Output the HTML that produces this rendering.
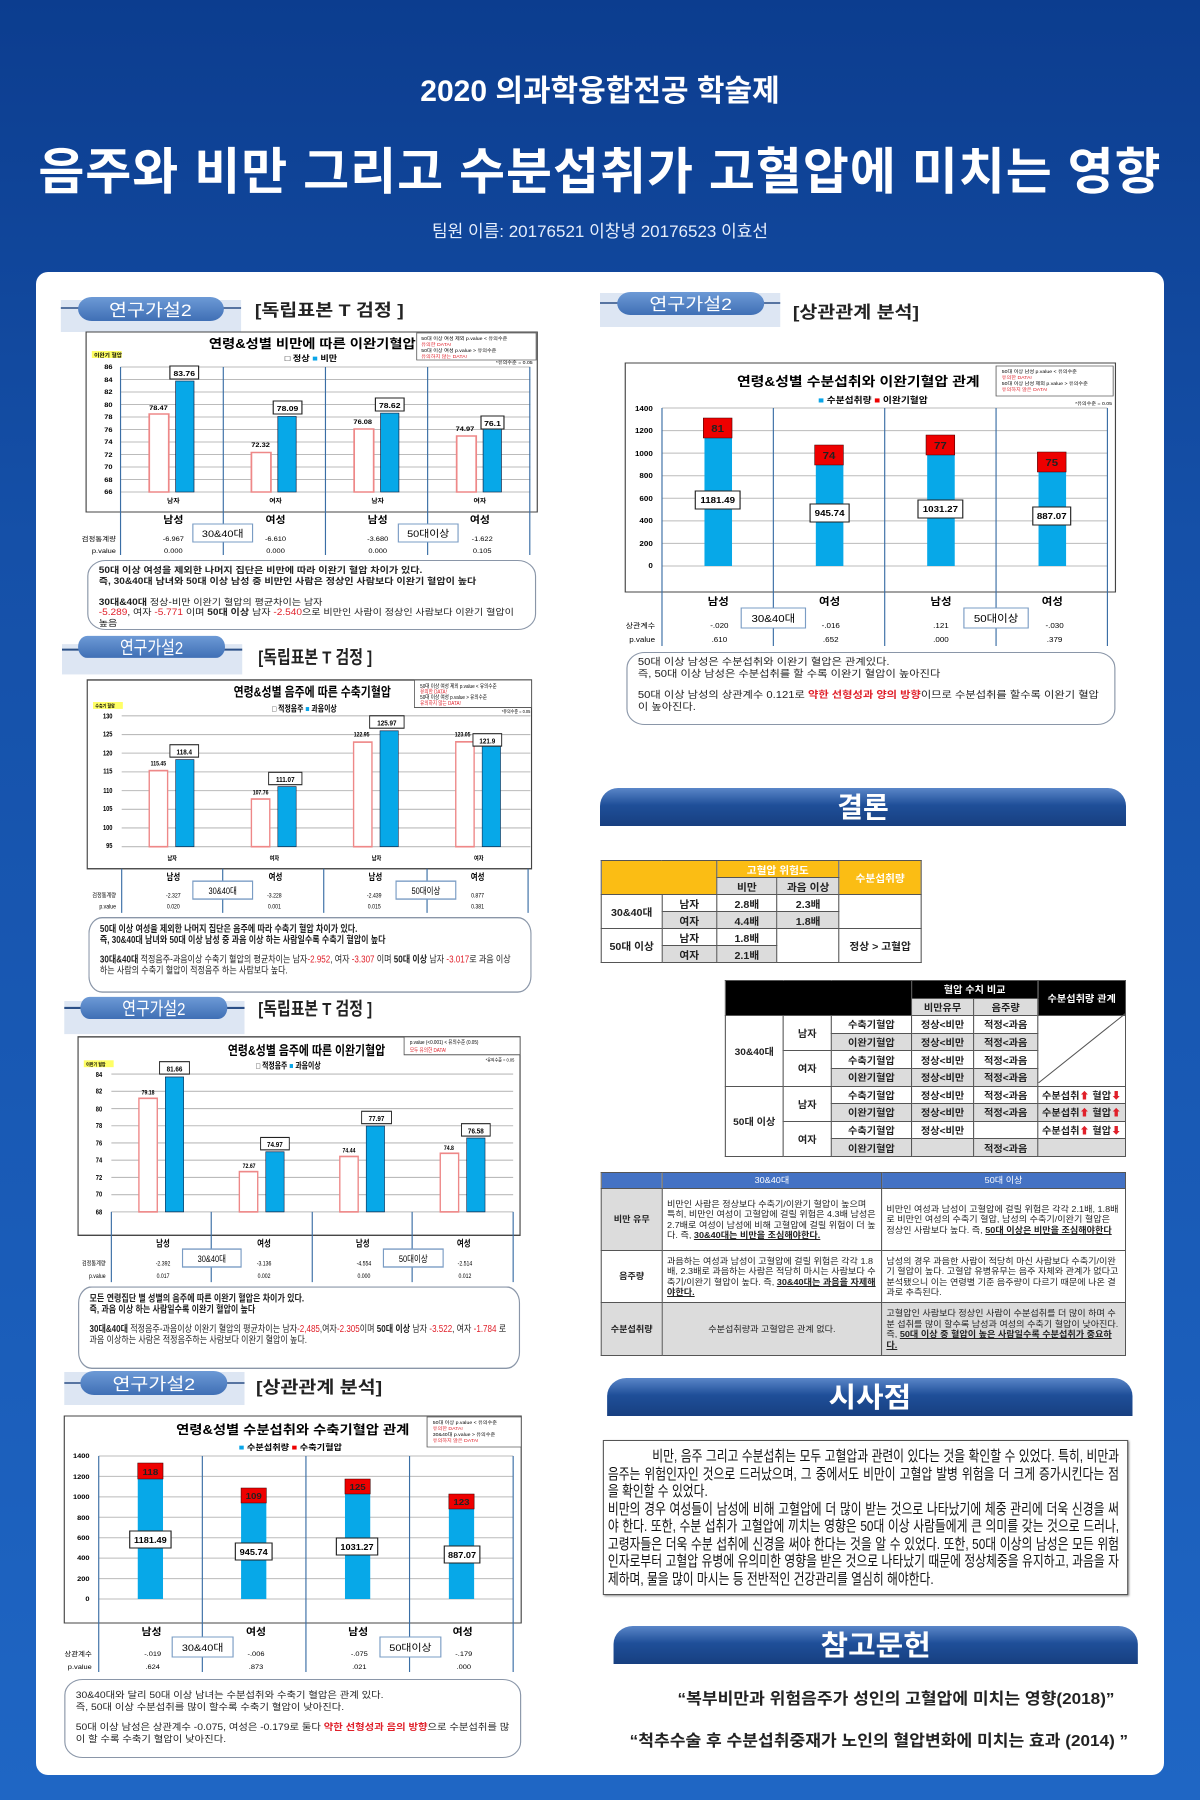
<!DOCTYPE html>
<html style="overflow:hidden;width:1200px;height:1800px"><head><meta charset="utf-8">
<style>
*{margin:0;padding:0;box-sizing:border-box}
body{width:1200px;height:1800px;position:relative;overflow:hidden;font-family:"Liberation Sans","Noto Sans CJK KR",sans-serif;background:linear-gradient(180deg,#0c3d8f 0%,#1550a8 30%,#1a5cb8 70%,#1f66c4 100%)}
.abs{position:absolute}
.wrap{position:absolute;left:0;top:0;width:0;height:0;overflow:visible}
.panel{left:36px;top:272px;width:1128px;height:1503px;background:#fff;border-radius:12px}
.h1{left:0;width:1200px;top:66px;text-align:center;color:#fff;font-size:30px;font-weight:bold}
.h2{left:0;width:1200px;top:132px;text-align:center;color:#fff;font-size:50px;font-weight:bold;letter-spacing:1px}
.h3{left:0;width:1200px;top:217px;text-align:center;color:#e6eefc;font-size:17px}
.note{border:1.5px solid #8a96a8;border-radius:16px;background:#fff;font-size:9.5px;line-height:12px;padding:6px 14px;color:#222}
.note b{font-weight:bold}
.red{color:#e0202a}
.banner{height:38px;border-radius:18px 18px 0 0;background:linear-gradient(180deg,#5a86c8 0%,#1f4f99 45%,#173f80 100%);color:#fff;font-weight:bold;font-size:28px;text-align:center;line-height:40px}
table{border-collapse:collapse;position:absolute;font-weight:bold;color:#222}
td{border:1px solid #555;text-align:center;padding:0;overflow:hidden}
.t1 td{font-size:10px;height:17px}
.t2 td{font-size:9.5px;height:17.6px}
.t3 td{font-size:8.5px;line-height:10.5px;font-weight:normal;text-align:left;padding:1px 4px}
.g{background:#dcdcdc}
.y{background:#fbbd14;color:#fff}
.k{background:#000;color:#fff}
.bl{background:#4472c4;color:#fff;font-weight:normal}
.ref{font-size:17px;font-weight:bold;color:#222;text-align:center;width:560px}
</style></head><body>
<div class="abs h1">2020 의과학융합전공 학술제</div>
<div class="abs h2">음주와 비만 그리고 수분섭취가 고혈압에 미치는 영향</div>
<div class="abs h3">팀원 이름: 20176521 이창녕 20176523 이효선</div>
<div class="abs panel"></div>

<svg class="abs" style="left:0;top:0" width="1200" height="1800" viewBox="0 0 1200 1800" font-family="Liberation Sans, Noto Sans CJK KR, sans-serif">
<defs><linearGradient id="pill" x1="0" y1="0" x2="0" y2="1"><stop offset="0" stop-color="#6d9ad6"/><stop offset="1" stop-color="#3f6fb5"/></linearGradient></defs>

<g transform="matrix(1.148,0,0,1,0,0)">
<rect x="53" y="300" width="157" height="32" fill="#dde6f3"/><line x1="53" y1="308" x2="210" y2="308" stroke="#2b4f86" stroke-width="1.5"/><rect x="68" y="297" width="127" height="24" rx="12" fill="url(#pill)"/><text x="131" y="316" fill="#fff" font-size="17" text-anchor="middle">연구가설2</text><text x="222" y="316" font-size="17" font-weight="bold" fill="#222">[독립표본 T 검정 ]</text>
<g font-weight="bold">
<rect x="75" y="332" width="393" height="180" fill="#fff" stroke="#444"/>
<text x="272" y="348" font-size="12.5" text-anchor="middle">연령&amp;성별 비만에 따른 이완기혈압</text>
<text x="248" y="361" font-size="8">□ 정상  <tspan fill="#0aa5e8">■</tspan> 비만</text>
<rect x="363" y="333" width="104" height="27" fill="#fff" stroke="#555" stroke-width=".7"/>
<text x="367" y="340" font-size="4.5" font-weight="normal">50대 이상 여성 제외 p.value &lt; 유의수준</text><text x="367" y="346" font-size="4.5" fill="#e0202a" font-weight="normal">유의한 DATA!</text><text x="367" y="352" font-size="4.5" font-weight="normal">50대 이상 여성 p.value &gt; 유의수준</text><text x="367" y="358" font-size="4.5" fill="#e0202a" font-weight="normal">유의하지 않는 DATA!</text>
<text x="464" y="364" font-size="4.5" text-anchor="end" font-weight="normal">*유의수준 = 0.05</text>
<rect x="80" y="351" width="26" height="7" fill="#ffff66"/><text x="82" y="357" font-size="5">이완기 혈압</text>
<path d="M105 367H462M105 379.5H462M105 392H462M105 404.5H462M105 417H462M105 429.5H462M105 442H462M105 454.5H462M105 467H462M105 479.5H462M105 492H462" stroke="#bbb" stroke-width="1"/>
<g font-size="6.5" text-anchor="end"><text x="98" y="369">86</text><text x="98" y="382">84</text><text x="98" y="394">82</text><text x="98" y="407">80</text><text x="98" y="419">78</text><text x="98" y="432">76</text><text x="98" y="444">74</text><text x="98" y="457">72</text><text x="98" y="469">70</text><text x="98" y="482">68</text><text x="98" y="494">66</text></g>
<g stroke="#e88" stroke-width="1.5" fill="#fff"><rect x="130" y="414" width="17" height="78"/><rect x="219" y="452.5" width="17" height="39.5"/><rect x="308.5" y="429" width="17" height="63"/><rect x="397.8" y="436" width="17" height="56"/></g>
<g fill="#07a8e8" stroke="#124" stroke-width=".6"><rect x="153" y="381" width="16" height="111"/><rect x="242" y="416.4" width="16" height="75.6"/><rect x="331.5" y="413.1" width="16" height="78.9"/><rect x="420.8" y="428.9" width="16" height="63.1"/></g>
<g font-size="6.5" text-anchor="middle"><text x="138" y="410">78.47</text><text x="227" y="447">72.32</text><text x="316" y="424">76.08</text><text x="405" y="431">74.97</text></g>
<g fill="#fff" stroke="#222"><rect x="148" y="366" width="25" height="13"/><rect x="238" y="401" width="25" height="13"/><rect x="327" y="398" width="25" height="13"/><rect x="419" y="416" width="20" height="13"/></g>
<g font-size="7.5" text-anchor="middle"><text x="160.5" y="376">83.76</text><text x="250.5" y="411">78.09</text><text x="339.5" y="408">78.62</text><text x="429" y="426">76.1</text></g>
<g font-size="6" text-anchor="middle"><text x="151" y="503">남자</text><text x="240" y="503">여자</text><text x="329" y="503">남자</text><text x="418" y="503">여자</text></g>
<path d="M105 367V555M194.5 367V555M283.5 367V555M372.5 367V555M461.5 367V555" stroke="#3a6ea5" stroke-width="1"/>
<g font-size="9.5" text-anchor="middle"><text x="151" y="523">남성</text><text x="240" y="523">여성</text><text x="329" y="523">남성</text><text x="418" y="523">여성</text></g>
<rect x="168" y="524" width="52" height="18" fill="#fff" stroke="#7a9cc4"/><rect x="347" y="524" width="52" height="18" fill="#fff" stroke="#7a9cc4"/>
<text x="194" y="537" font-size="9.5" text-anchor="middle" font-weight="normal">30&amp;40대</text><text x="373" y="537" font-size="9.5" text-anchor="middle" font-weight="normal">50대이상</text>
<g font-size="6.5" font-weight="normal" text-anchor="middle"><text x="101" y="541" text-anchor="end">검정통계량</text><text x="101" y="553" text-anchor="end">p.value</text>
<text x="151" y="541">-6.967</text><text x="240" y="541">-6.610</text><text x="329" y="541">-3.680</text><text x="420" y="541">-1.622</text>
<text x="151" y="553">0.000</text><text x="240" y="553">0.000</text><text x="329" y="553">0.000</text><text x="420" y="553">0.105</text></g>
</g>
</g>

<g transform="matrix(1.148,0,0,1.378,0,-241.92)">
<rect x="54" y="643" width="157" height="22" fill="#dde6f3"/><line x1="54" y1="647" x2="211" y2="647" stroke="#2b4f86" stroke-width="1.5"/><rect x="68" y="637" width="128" height="16" rx="8" fill="url(#pill)"/><text x="132" y="650" fill="#fff" font-size="13" text-anchor="middle">연구가설2</text><text x="225" y="657" font-size="13" font-weight="bold" fill="#222">[독립표본 T 검정 ]</text>
<rect x="56" y="902" width="157" height="24" fill="#dde6f3"/><line x1="56" y1="907" x2="213" y2="907" stroke="#2b4f86" stroke-width="1.5"/><rect x="70" y="899" width="128" height="16" rx="8" fill="url(#pill)"/><text x="134" y="912" fill="#fff" font-size="13" text-anchor="middle">연구가설2</text><text x="225" y="912" font-size="13" font-weight="bold" fill="#222">[독립표본 T 검정 ]</text>
<g font-weight="bold">
<rect x="76" y="669" width="387" height="137" fill="#fff" stroke="#444"/>
<text x="272" y="681" font-size="9.5" text-anchor="middle">연령&amp;성별 음주에 따른 수축기혈압</text>
<text x="237" y="692" font-size="6">□ 적정음주   <tspan fill="#0aa5e8">■</tspan> 과음이상</text>
<rect x="361" y="669" width="102" height="20" fill="#fff" stroke="#555" stroke-width=".7"/>
<text x="366" y="675" font-size="4" font-weight="normal">50대 이상 여성 제외 p.value &lt; 유의수준</text><text x="366" y="679" font-size="4" fill="#e0202a" font-weight="normal">유의한 DATA!</text><text x="366" y="683" font-size="4" font-weight="normal">50대 이상 여성 p.value &gt; 유의수준</text><text x="366" y="687" font-size="4" fill="#e0202a" font-weight="normal">유의하지 않는 DATA!</text>
<text x="462" y="693" font-size="3.5" text-anchor="end" font-weight="normal">*유의수준 = 0.05</text>
<rect x="81" y="685" width="26" height="5" fill="#ffff66"/><text x="83" y="689" font-size="3.5">수축기 혈압</text>
<path d="M106 695H462M106 708.6H462M106 722.1H462M106 735.7H462M106 749.3H462M106 762.9H462M106 776.4H462M106 790H462" stroke="#bbb" stroke-width=".8"/>
<g font-size="5" text-anchor="end"><text x="98" y="697">130</text><text x="98" y="710">125</text><text x="98" y="724">120</text><text x="98" y="737">115</text><text x="98" y="751">110</text><text x="98" y="764">105</text><text x="98" y="778">100</text><text x="98" y="791">95</text></g>
<g stroke="#e88" stroke-width="1.2" fill="#fff"><rect x="130" y="734.8" width="16" height="55.2"/><rect x="219" y="755.4" width="16" height="34.6"/><rect x="308" y="714.1" width="16" height="75.9"/><rect x="397" y="713.9" width="16" height="76.1"/></g>
<g fill="#07a8e8" stroke="#124" stroke-width=".5"><rect x="153" y="726.8" width="16" height="63.2"/><rect x="242" y="746.4" width="16" height="43.6"/><rect x="331" y="705.9" width="16" height="84.1"/><rect x="420" y="717" width="16" height="73"/></g>
<g font-size="4.5" text-anchor="middle"><text x="138" y="731">115.45</text><text x="227" y="752">107.76</text><text x="315" y="710">122.95</text><text x="403" y="710">123.05</text></g>
<g fill="#fff" stroke="#222" stroke-width=".8"><rect x="148" y="716" width="25" height="9"/><rect x="234" y="736" width="29" height="9"/><rect x="322" y="695" width="30" height="9"/><rect x="412" y="708" width="25" height="9"/></g>
<g font-size="5.5" text-anchor="middle"><text x="160.5" y="723">118.4</text><text x="248.5" y="743">111.07</text><text x="337" y="702">125.97</text><text x="424.5" y="715">121.9</text></g>
<g font-size="4.5" text-anchor="middle"><text x="150" y="800">남자</text><text x="239" y="800">여자</text><text x="328" y="800">남자</text><text x="417" y="800">여자</text></g>
<path d="M106 806V838M194 806V838M282 806V838M372 806V838M460 806V838" stroke="#3a6ea5"/>
<g font-size="6.5" text-anchor="middle"><text x="151" y="814">남성</text><text x="240" y="814">여성</text><text x="327" y="814">남성</text><text x="416" y="814">여성</text></g>
<rect x="168" y="815" width="52" height="13" fill="#fff" stroke="#7a9cc4"/><rect x="345" y="815" width="52" height="13" fill="#fff" stroke="#7a9cc4"/>
<text x="194" y="824.5" font-size="6.5" text-anchor="middle" font-weight="normal">30&amp;40대</text><text x="371" y="824.5" font-size="6.5" text-anchor="middle" font-weight="normal">50대이상</text>
<g font-size="4.5" font-weight="normal" text-anchor="middle"><text x="101" y="827" text-anchor="end">검정통계량</text><text x="101" y="835" text-anchor="end">p.value</text>
<text x="151" y="827">-2.327</text><text x="239" y="827">-3.228</text><text x="326" y="827">-2.439</text><text x="416" y="827">0.877</text>
<text x="151" y="835">0.020</text><text x="239" y="835">0.001</text><text x="326" y="835">0.015</text><text x="416" y="835">0.381</text></g>
</g>
<g font-weight="bold">
<rect x="68" y="928" width="385" height="144" fill="#fff" stroke="#444"/>
<text x="267" y="941" font-size="9.5" text-anchor="middle">연령&amp;성별 음주에 따른 이완기혈압</text>
<text x="223" y="951" font-size="6">□ 적정음주   <tspan fill="#0aa5e8">■</tspan> 과음이상</text>
<rect x="352" y="928" width="101" height="13" fill="#fff" stroke="#555" stroke-width=".7"/>
<text x="357" y="933" font-size="4" font-weight="normal">p.value (&lt;0.001) &lt; 유의수준 (0.05)</text><text x="357" y="939" font-size="4" fill="#e0202a" font-weight="normal">모두 유의한 DATA!</text>
<text x="448" y="946" font-size="3.5" text-anchor="end" font-weight="normal">*유의수준 = 0.05</text>
<rect x="73" y="945" width="26" height="5" fill="#ffff66"/><text x="75" y="949" font-size="3.5">이완기 혈압</text>
<path d="M97 955H447M97 967.5H447M97 980H447M97 992.5H447M97 1005H447M97 1017.5H447M97 1030H447M97 1042.5H447M97 1055H447" stroke="#bbb" stroke-width=".8"/>
<g font-size="5" text-anchor="end"><text x="89" y="957">84</text><text x="89" y="969">82</text><text x="89" y="982">80</text><text x="89" y="994">78</text><text x="89" y="1007">76</text><text x="89" y="1019">74</text><text x="89" y="1032">72</text><text x="89" y="1044">70</text><text x="89" y="1057">68</text></g>
<g stroke="#e88" stroke-width="1.2" fill="#fff"><rect x="121" y="972.6" width="16" height="82.4"/><rect x="208.5" y="1025.8" width="16" height="29.2"/><rect x="296" y="1014.8" width="16" height="40.2"/><rect x="383.5" y="1012.5" width="16" height="42.5"/></g>
<g fill="#07a8e8" stroke="#124" stroke-width=".5"><rect x="144" y="957.1" width="16" height="97.9"/><rect x="231.5" y="1011.4" width="16" height="43.6"/><rect x="319" y="992.7" width="16" height="62.3"/><rect x="406.5" y="1001.4" width="16" height="53.6"/></g>
<g font-size="4.5" text-anchor="middle"><text x="129" y="970">79.18</text><text x="217" y="1023">72.67</text><text x="304" y="1012">74.44</text><text x="391" y="1010">74.8</text></g>
<g fill="#fff" stroke="#222" stroke-width=".8"><rect x="139" y="946" width="26" height="9"/><rect x="227" y="1001" width="25" height="9"/><rect x="315" y="982" width="26" height="9"/><rect x="402" y="991" width="25" height="9"/></g>
<g font-size="5.5" text-anchor="middle"><text x="152" y="953">81.66</text><text x="239.5" y="1008">74.97</text><text x="328" y="989">77.97</text><text x="414.5" y="998">76.58</text></g>
<path d="M97 1055V1106M184 1055V1106M272 1055V1106M359 1055V1106M447 1055V1106" stroke="#3a6ea5"/>
<g font-size="6.5" text-anchor="middle"><text x="142" y="1080">남성</text><text x="230" y="1080">여성</text><text x="316" y="1080">남성</text><text x="404" y="1080">여성</text></g>
<rect x="159" y="1082" width="51" height="13" fill="#fff" stroke="#7a9cc4"/><rect x="334" y="1082" width="52" height="13" fill="#fff" stroke="#7a9cc4"/>
<text x="184.5" y="1091.5" font-size="6.5" text-anchor="middle" font-weight="normal">30&amp;40대</text><text x="360" y="1091.5" font-size="6.5" text-anchor="middle" font-weight="normal">50대이상</text>
<g font-size="4.5" font-weight="normal" text-anchor="middle"><text x="92" y="1094" text-anchor="end">검정통계량</text><text x="92" y="1103" text-anchor="end">p.value</text>
<text x="142" y="1094">-2.392</text><text x="230" y="1094">-3.136</text><text x="317" y="1094">-4.554</text><text x="405" y="1094">-2.514</text>
<text x="142" y="1103">0.017</text><text x="230" y="1103">0.002</text><text x="317" y="1103">0.000</text><text x="405" y="1103">0.012</text></g>
</g>
</g>

<g transform="matrix(1.148,0,0,1,0,0)">
<rect x="56" y="1372" width="157" height="33" fill="#dde6f3"/><line x1="56" y1="1383" x2="213" y2="1383" stroke="#2b4f86" stroke-width="1.5"/><rect x="70" y="1371" width="128" height="24" rx="12" fill="url(#pill)"/><text x="134" y="1390" fill="#fff" font-size="17" text-anchor="middle">연구가설2</text><text x="223" y="1393" font-size="17" font-weight="bold" fill="#222">[상관관계 분석]</text>
<g font-weight="bold">
<rect x="56" y="1416" width="398" height="207" fill="#fff" stroke="#444"/>
<text x="255" y="1434" font-size="12.5" text-anchor="middle">연령&amp;성별 수분섭취와 수축기혈압 관계</text>
<text x="208" y="1450" font-size="8"><tspan fill="#0aa5e8">■</tspan> 수분섭취량   <tspan fill="#e00">■</tspan> 수축기혈압</text>
<rect x="372" y="1417" width="82" height="30" fill="#fff" stroke="#555" stroke-width=".7"/>
<text x="377" y="1424" font-size="4.5" font-weight="normal">50대 이상 p.value &lt; 유의수준</text><text x="377" y="1430" font-size="4.5" fill="#e0202a" font-weight="normal">유의한 DATA!</text><text x="377" y="1436" font-size="4.5" font-weight="normal">30&amp;40대 p.value &gt; 유의수준</text><text x="377" y="1442" font-size="4.5" fill="#e0202a" font-weight="normal">유의하지 않은 DATA!</text>
<path d="M86 1456H447M86 1476.4H447M86 1496.9H447M86 1517.3H447M86 1537.7H447M86 1558.1H447M86 1578.6H447M86 1599H447" stroke="#bbb"/>
<g font-size="6.5" text-anchor="end"><text x="78" y="1458">1400</text><text x="78" y="1479">1200</text><text x="78" y="1499">1000</text><text x="78" y="1520">800</text><text x="78" y="1540">600</text><text x="78" y="1560">400</text><text x="78" y="1581">200</text><text x="78" y="1601">0</text></g>
<g fill="#07a8e8"><rect x="120" y="1478.4" width="22" height="120.6"/><rect x="210" y="1502.4" width="22" height="96.6"/><rect x="300.5" y="1493.7" width="22" height="105.3"/><rect x="391" y="1508.4" width="22" height="90.6"/></g>
<g fill="#e00" stroke="#400" stroke-width=".5"><rect x="120" y="1463" width="22" height="16"/><rect x="210" y="1488" width="22" height="15"/><rect x="300.5" y="1479" width="22" height="15"/><rect x="391" y="1494" width="22" height="15"/></g>
<g font-size="8.5" text-anchor="middle" fill="#222"><text x="131" y="1475">118</text><text x="221" y="1499">109</text><text x="311.5" y="1490">125</text><text x="402" y="1505">123</text></g>
<g fill="#fff" stroke="#222"><rect x="113" y="1531" width="36" height="17"/><rect x="205" y="1543" width="32" height="17"/><rect x="293" y="1538" width="36" height="17"/><rect x="387" y="1546" width="31" height="17"/></g>
<g font-size="8" text-anchor="middle"><text x="131" y="1543">1181.49</text><text x="221" y="1555">945.74</text><text x="311" y="1550">1031.27</text><text x="402.5" y="1558">887.07</text></g>
<path d="M86 1456V1672M176.25 1456V1672M266.5 1456V1672M356.75 1456V1672M447 1456V1672" stroke="#3a6ea5"/>
<g font-size="9.5" text-anchor="middle"><text x="132" y="1635">남성</text><text x="223" y="1635">여성</text><text x="312" y="1635">남성</text><text x="403" y="1635">여성</text></g>
<rect x="150" y="1637" width="53" height="20" fill="#fff" stroke="#7a9cc4"/><rect x="331" y="1637" width="53" height="20" fill="#fff" stroke="#7a9cc4"/>
<text x="176.5" y="1651" font-size="9.5" text-anchor="middle" font-weight="normal">30&amp;40대</text><text x="357.5" y="1651" font-size="9.5" text-anchor="middle" font-weight="normal">50대이상</text>
<g font-size="6.5" font-weight="normal" text-anchor="middle"><text x="80" y="1656" text-anchor="end">상관계수</text><text x="80" y="1669" text-anchor="end">p.value</text>
<text x="133" y="1656">-.019</text><text x="223" y="1656">-.006</text><text x="313" y="1656">-.075</text><text x="404" y="1656">-.179</text>
<text x="133" y="1669">.624</text><text x="223" y="1669">.873</text><text x="313" y="1669">.021</text><text x="404" y="1669">.000</text></g>
</g>
</g>

<g transform="matrix(1.148,0,0,1,-88.8,0)">
<rect x="600" y="293" width="157" height="34" fill="#dde6f3"/><line x1="600" y1="303" x2="757" y2="303" stroke="#2b4f86" stroke-width="1.5"/><rect x="615" y="292" width="128" height="23" rx="11.5" fill="url(#pill)"/><text x="679" y="310" fill="#fff" font-size="17" text-anchor="middle">연구가설2</text><text x="768" y="318" font-size="17" font-weight="bold" fill="#222">[상관관계 분석]</text>
<g font-weight="bold">
<rect x="622" y="363" width="427" height="229" fill="#fff" stroke="#444"/>
<text x="825" y="386" font-size="13" text-anchor="middle">연령&amp;성별 수분섭취와 이완기혈압 관계</text>
<text x="790" y="403" font-size="8.5"><tspan fill="#0aa5e8">■</tspan> 수분섭취량   <tspan fill="#e00">■</tspan> 이완기혈압</text>
<rect x="945" y="366" width="102" height="30" fill="#fff" stroke="#555" stroke-width=".7"/>
<text x="950" y="373" font-size="4.5" font-weight="normal">50대 이상 남성 p.value &lt; 유의수준</text><text x="950" y="379" font-size="4.5" fill="#e0202a" font-weight="normal">유의한 DATA!</text><text x="950" y="385" font-size="4.5" font-weight="normal">50대 이상 남성 제외 p.value &gt; 유의수준</text><text x="950" y="391" font-size="4.5" fill="#e0202a" font-weight="normal">유의하지 않은 DATA!</text>
<text x="1046" y="405" font-size="4.5" text-anchor="end" font-weight="normal">*유의수준 = 0.05</text>
<path d="M654 408H1042M654 430.6H1042M654 453.1H1042M654 475.7H1042M654 498.3H1042M654 520.9H1042M654 543.4H1042M654 566H1042" stroke="#bbb"/>
<g font-size="7" text-anchor="end"><text x="646" y="411">1400</text><text x="646" y="433">1200</text><text x="646" y="456">1000</text><text x="646" y="478">800</text><text x="646" y="501">600</text><text x="646" y="523">400</text><text x="646" y="546">200</text><text x="646" y="568">0</text></g>
<g fill="#07a8e8"><rect x="691" y="432.6" width="24" height="133.4"/><rect x="788" y="459.2" width="24" height="106.8"/><rect x="885" y="449.6" width="24" height="116.4"/><rect x="982" y="465.8" width="24" height="100.2"/></g>
<g fill="#e00" stroke="#400" stroke-width=".5"><rect x="690" y="418" width="25" height="20"/><rect x="787" y="445" width="25" height="20"/><rect x="884" y="435" width="25" height="20"/><rect x="981" y="452" width="25" height="20"/></g>
<g font-size="10" text-anchor="middle" fill="#222"><text x="702.5" y="432">81</text><text x="799.5" y="459">74</text><text x="896.5" y="449">77</text><text x="993.5" y="466">75</text></g>
<g fill="#fff" stroke="#222"><rect x="683" y="491" width="39" height="18"/><rect x="783" y="504" width="34" height="18"/><rect x="877" y="500" width="39" height="18"/><rect x="977" y="507" width="33" height="18"/></g>
<g font-size="8.5" text-anchor="middle"><text x="702.5" y="503">1181.49</text><text x="800" y="516">945.74</text><text x="896.5" y="512">1031.27</text><text x="993.5" y="519">887.07</text></g>
<path d="M654 408V646M751 408V646M848 408V646M945 408V646M1042 408V646" stroke="#3a6ea5"/>
<g font-size="10" text-anchor="middle"><text x="703" y="605">남성</text><text x="800" y="605">여성</text><text x="897" y="605">남성</text><text x="994" y="605">여성</text></g>
<rect x="723" y="608" width="56" height="20" fill="#fff" stroke="#7a9cc4"/><rect x="917" y="608" width="56" height="20" fill="#fff" stroke="#7a9cc4"/>
<text x="751" y="622" font-size="10" text-anchor="middle" font-weight="normal">30&amp;40대</text><text x="945" y="622" font-size="10" text-anchor="middle" font-weight="normal">50대이상</text>
<g font-size="7" font-weight="normal" text-anchor="middle"><text x="648" y="628" text-anchor="end">상관계수</text><text x="648" y="642" text-anchor="end">p.value</text>
<text x="704" y="628">-.020</text><text x="801" y="628">-.016</text><text x="897" y="628">.121</text><text x="996" y="628">-.030</text>
<text x="704" y="642">.610</text><text x="801" y="642">.652</text><text x="897" y="642">.000</text><text x="996" y="642">.379</text></g>
</g>
</g>
</svg>

<div class="wrap" style="transform-origin:0 270px;transform:scale(1.148,1)">
<div class="abs note" style="left:76px;top:560px;width:391px;height:70px;font-size:8.8px;line-height:10.5px;padding:4px 9px"><b>50대 이상 여성을 제외한 나머지 집단은 비만에 따라 이완기 혈압 차이가 있다.<br>즉, 30&amp;40대 남녀와 50대 이상 남성 중 비만인 사람은 정상인 사람보다 이완기 혈압이 높다</b><br><br style="line-height:6px"><b>30대&amp;40대</b> 정상-비만 이완기 혈압의 평균차이는 남자<br><span class="red">-5.289</span>, 여자 <span class="red">-5.771</span> 이며 <b>50대 이상</b> 남자 <span class="red">-2.540</span>으로 비만인 사람이 정상인 사람보다 이완기 혈압이 높음</div>
</div>
<div class="wrap" style="transform-origin:0 640px;transform:scale(1.148,1.378)">
<div class="abs note" style="left:77px;top:841px;width:386px;height:55px;font-size:7px;line-height:8px;padding:5px 9px;border-radius:12px;border-width:1px"><b>50대 이상 여성을 제외한 나머지 집단은 음주에 따라 수축기 혈압 차이가 있다.<br>즉, 30&amp;40대 남녀와 50대 이상 남성 중 과음 이상 하는 사람일수록 수축기 혈압이 높다</b><br><span style="display:block;height:6px"></span><b>30대&amp;40대</b> 적정음주-과음이상 수축기 혈압의 평균차이는 남자<span class="red">-2.952</span>, 여자 <span class="red">-3.307</span> 이며 <b>50대 이상</b> 남자 <span class="red">-3.017</span>로 과음 이상 하는 사람의 수축기 혈압이 적정음주 하는 사람보다 높다.</div>
<div class="abs note" style="left:68px;top:1109px;width:385px;height:60px;font-size:7px;line-height:8px;padding:5px 9px;border-radius:12px;border-width:1px"><b>모든 연령집단 별 성별의 음주에 따른 이완기 혈압은 차이가 있다.<br>즉, 과음 이상 하는 사람일수록 이완기 혈압이 높다</b><br><span style="display:block;height:6px"></span><b>30대&amp;40대</b> 적정음주-과음이상 이완기 혈압의 평균차이는 남자<span class="red">-2,485</span>,여자<span class="red">-2.305</span>이며 <b>50대 이상</b> 남자 <span class="red">-3.522</span>, 여자 <span class="red">-1.784</span> 로 과음 이상하는 사람은 적정음주하는 사람보다 이완기 혈압이 높다.</div>
</div>
<div class="wrap" style="transform-origin:0 1360px;transform:scale(1.148,1)">
<div class="abs note" style="left:56px;top:1679px;width:398px;height:79px;font-size:9px;line-height:11.5px;padding:10px 9px">30&amp;40대와 달리 50대 이상 남녀는 수분섭취와 수축기 혈압은 관계 있다.<br>즉, 50대 이상 수분섭취를 많이 할수록 수축기 혈압이 낮아진다.<br><span style="display:block;height:9px"></span>50대 이상 남성은 상관계수 -0.075, 여성은 -0.179로 둘다 <b class="red">약한 선형성과 음의 방향</b>으로 수분섭취를 많이 할 수록 수축기 혈압이 낮아진다.</div>
</div>
<div class="wrap" style="transform-origin:600px 270px;transform:scale(1.148,1)">
<div class="abs note" style="left:623px;top:652px;width:426px;height:73px;font-size:9.8px;line-height:12px;padding:4px 9px">50대 이상 남성은 수분섭취와 이완기 혈압은 관계있다.<br>즉, 50대 이상 남성은 수분섭취를 할 수록 이완기 혈압이 높아진다<br><span style="display:block;height:9px"></span>50대 이상 남성의 상관계수 0.121로 <b class="red">약한 선형성과 양의 방향</b>이므로 수분섭취를 할수록 이완기 혈압이 높아진다.</div>
</div>

<div class="abs banner" style="left:600px;top:788px;width:526px">결론</div>
<div class="wrap" style="transform-origin:590px 840px;transform:scale(1.07,1)">
<table class="t1" style="left:600px;top:860px;width:300px">
<tr><td class="y" colspan="2" rowspan="2" style="width:108px"></td><td class="y" colspan="2">고혈압 위험도</td><td class="y" rowspan="2" style="width:77px">수분섭취량</td></tr>
<tr><td class="g" style="width:57px">비만</td><td class="g" style="width:58px">과음 이상</td></tr>
<tr><td rowspan="2" style="width:57px">30&amp;40대</td><td style="width:51px">남자</td><td>2.8배</td><td>2.3배</td><td rowspan="2"></td></tr>
<tr><td class="g">여자</td><td class="g">4.4배</td><td class="g">1.8배</td></tr>
<tr><td rowspan="2">50대 이상</td><td>남자</td><td>1.8배</td><td rowspan="2"></td><td rowspan="2">정상 &gt; 고혈압</td></tr>
<tr><td class="g">여자</td><td class="g">2.1배</td></tr>
</table>
<table class="t2" style="left:716px;top:980px;width:375px">
<tr><td class="k" colspan="3" rowspan="2" style="width:175px"></td><td class="k" colspan="2">혈압 수치 비교</td><td class="k" rowspan="2" style="width:82px">수분섭취량 관계</td></tr>
<tr><td class="g" style="width:58px">비만유무</td><td class="g" style="width:60px">음주량</td></tr>
<tr><td rowspan="4" style="width:54px">30&amp;40대</td><td rowspan="2" style="width:45px">남자</td><td>수축기혈압</td><td>정상&lt;비만</td><td>적정&lt;과음</td><td rowspan="4"></td></tr>
<tr><td class="g">이완기혈압</td><td class="g">정상&lt;비만</td><td class="g">적정&lt;과음</td></tr>
<tr><td rowspan="2">여자</td><td>수축기혈압</td><td>정상&lt;비만</td><td>적정&lt;과음</td></tr>
<tr><td class="g">이완기혈압</td><td class="g">정상&lt;비만</td><td class="g">적정&lt;과음</td></tr>
<tr><td rowspan="4">50대 이상</td><td rowspan="2">남자</td><td>수축기혈압</td><td>정상&lt;비만</td><td>적정&lt;과음</td><td>수분섭취<span class="red">⬆</span> 혈압<span class="red">⬇</span></td></tr>
<tr><td class="g">이완기혈압</td><td class="g">정상&lt;비만</td><td class="g">적정&lt;과음</td><td class="g">수분섭취<span class="red">⬆</span> 혈압<span class="red">⬆</span></td></tr>
<tr><td rowspan="2">여자</td><td>수축기혈압</td><td>정상&lt;비만</td><td></td><td>수분섭취<span class="red">⬆</span> 혈압<span class="red">⬇</span></td></tr>
<tr><td class="g">이완기혈압</td><td class="g"></td><td class="g">적정&lt;과음</td><td class="g"></td></tr>
</table>
<svg class="abs" style="left:1009px;top:1013px" width="82" height="70"><line x1="0" y1="70" x2="82" y2="0" stroke="#555"/></svg>
<table class="t3" style="left:600px;top:1172px;width:491px">
<tr><td class="bl" style="width:57px;height:16px"></td><td class="bl" style="width:205px;text-align:center">30&amp;40대</td><td class="bl" style="text-align:center">50대 이상</td></tr>
<tr><td class="g" style="height:62px;text-align:center;font-weight:bold">비만 유무</td><td>비만인 사람은 정상보다 수축기/이완기 혈압이 높으며 특히, 비만인 여성이 고혈압에 걸릴 위험은 4.3배 남성은 2.7배로 여성이 남성에 비해 고혈압에 걸릴 위험이 더 높다. 즉, <b><u>30&amp;40대는 비만을 조심해야한다.</u></b></td><td>비만인 여성과 남성이 고혈압에 걸릴 위험은 각각 2.1배, 1.8배로 비만인 여성의 수축기 혈압, 남성의 수축기/이완기 혈압은 정상인 사람보다 높다. 즉, <b><u>50대 이상은 비만을 조심해야한다</u></b></td></tr>
<tr><td style="height:52px;text-align:center;font-weight:bold">음주량</td><td>과음하는 여성과 남성이 고혈압에 걸릴 위험은 각각 1.8배, 2.3배로 과음하는 사람은 적당히 마시는 사람보다 수축기/이완기 혈압이 높다. 즉, <b><u>30&amp;40대는 과음을 자제해야한다.</u></b></td><td>남성의 경우 과음한 사람이 적당히 마신 사람보다 수축기/이완기 혈압이 높다. 고혈압 유병유무는 음주 자체와 관계가 없다고 분석됐으니 이는 연령별 기준 음주량이 다르기 때문에 나온 결과로 추측된다.</td></tr>
<tr><td class="g" style="height:53px;text-align:center;font-weight:bold">수분섭취량</td><td class="g" style="text-align:center">수분섭취량과 고혈압은 관계 없다.</td><td class="g">고혈압인 사람보다 정상인 사람이 수분섭취를 더 많이 하며 수분 섭취를 많이 할수록 남성과 여성의 수축기 혈압이 낮아진다. 즉, <b><u>50대 이상 중 혈압이 높은 사람일수록 수분섭취가 중요하다.</u></b></td></tr>
</table>
</div>

<div class="wrap" style="transform-origin:590px 1360px;transform:scale(1.07,1)">
<div class="abs banner" style="left:606px;top:1378px;width:491px">시사점</div>
<div class="abs" style="left:602px;top:1440px;width:491px;height:155px;border:1px solid #555;box-shadow:1px 1px 2px #888;overflow:hidden">
<div style="width:660px;transform:scaleX(0.735);transform-origin:0 0;font-size:15px;line-height:17.5px;padding:7px 5px;color:#111;text-align:justify">&nbsp;&nbsp;&nbsp;&nbsp;&nbsp;&nbsp;&nbsp;&nbsp;&nbsp;&nbsp;&nbsp;&nbsp;&nbsp;비만, 음주 그리고 수분섭취는 모두 고혈압과 관련이 있다는 것을 확인할 수 있었다. 특히, 비만과 음주는 위험인자인 것으로 드러났으며, 그 중에서도 비만이 고혈압 발병 위험을 더 크게 증가시킨다는 점을 확인할 수 있었다.<br>비만의 경우 여성들이 남성에 비해 고혈압에 더 많이 받는 것으로 나타났기에 체중 관리에 더욱 신경을 써야 한다. 또한, 수분 섭취가 고혈압에 끼치는 영향은 50대 이상 사람들에게 큰 의미를 갖는 것으로 드러나, 고령자들은 더욱 수분 섭취에 신경을 써야 한다는 것을 알 수 있었다. 또한, 50대 이상의 남성은 모든 위험인자로부터 고혈압 유병에 유의미한 영향을 받은 것으로 나타났기 때문에 정상체중을 유지하고, 과음을 자제하며, 물을 많이 마시는 등 전반적인 건강관리를 열심히 해야한다.</div></div>
<div class="abs banner" style="left:612px;top:1626px;width:490px">참고문헌</div>
<div class="abs ref" style="left:596px;top:1685px;font-size:16px">“복부비만과 위험음주가 성인의 고혈압에 미치는 영향(2018)”</div>
<div class="abs ref" style="left:600px;top:1727px;width:520px;font-size:16px">“척추수술 후 수분섭취중재가 노인의 혈압변화에 미치는 효과 (2014) ”</div>
</div>
</body></html>
